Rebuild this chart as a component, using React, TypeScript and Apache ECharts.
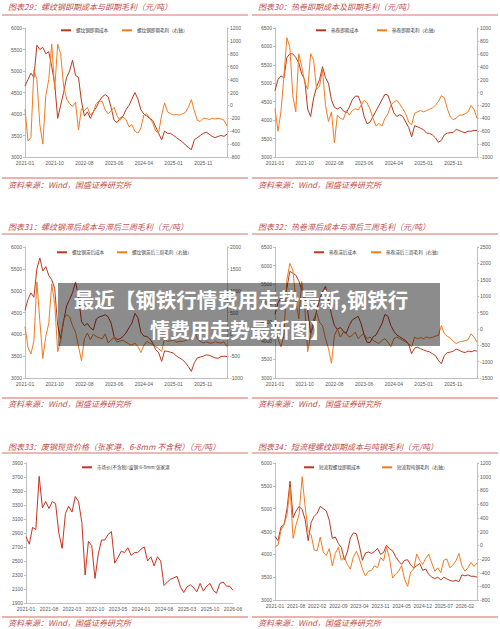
import React, { useEffect, useRef } from 'react';
import * as echarts from 'echarts';

// ---------- tick labels ----------
const ticksA = ['2021-01', '2021-10', '2022-08', '2023-06', '2024-04', '2025-01', '2025-11'];
const ticks33 = ['2021-01', '2021-08', '2022-03', '2022-10', '2023-05', '2024-01', '2024-08', '2025-03', '2025-10', '2026-06'];
const ticks34 = ['2021-01', '2021-08', '2022-02', '2022-09', '2023-04', '2023-11', '2024-05', '2024-12', '2025-07', '2026-02'];

// ---------- 图表29 ----------
const rebarSpotCost = [
  4650, 4800, 4950, 4850, 5600, 5500, 5550, 5400, 5450, 5100,
  4700, 3900, 4200, 4500, 4850, 5000, 5250, 4900, 4850, 4300,
  3950, 4050, 3900, 4050, 4150, 4300, 4400, 4450, 4400, 4150,
  3850, 3800, 3900, 3950, 4100, 4200, 4350, 4500, 4350, 4100,
  4000, 3950, 3900, 3850, 3700, 3550, 3400, 3600, 3550, 3550,
  3500, 3450, 3400, 3350, 3280, 3220, 3170, 3400, 3450, 3500,
  3550, 3580, 3530, 3480, 3450, 3480, 3500, 3480, 3530,
];
const rebarSpotProfit = [
  -60, -550, -500, 550, 400, -300, -600, 150, 400, 950,
  250, 950, 800, 300, 100, 30, -20, 50, -380, -50,
  -80, -30, -150, -100, 30, 70, 60, -70, -130, -80,
  -30, -160, -230, -180, -220, -330, -300, -400, -430, -350,
  -150, -130, -200, -270, -400, -420, -150, 40, -100, -130,
  -150, -140, -150, -130, -110, -30, 90, -80, -230, -250,
  -200, -200, -220, -200, -210, -200, -210, -230, -320,
];

// ---------- 图表30 ----------
const hrcSpotCost = [
  4800, 5100, 5200, 5150, 5700, 5800, 5800, 5700, 5550, 5250,
  5100, 4300, 4100, 4600, 4900, 5100, 5450, 5150, 5000, 4550,
  4350, 4300, 4350, 4250, 4200, 4350, 4550, 4650, 4650, 4450,
  4100, 3900, 3950, 4100, 4250, 4400, 4550, 4700, 4680, 4450,
  4200, 4100, 4150, 4100, 3950, 3800, 3550, 3850, 3820, 3780,
  3740, 3650, 3640, 3600, 3520, 3400, 3450, 3600, 3650, 3660,
  3670, 3750, 3720, 3680, 3660, 3700, 3700, 3720, 3720,
];
const hrcSpotProfit = [
  -250, -600, -300, 250, 850, 700, -50, -300, 600, 400,
  150, 50, 600, 500, 50, 100, 350, -200, -450, -300,
  -780, -350, -400, -420, -280, -350, -280, -250, -270, -200,
  -120, -160, -260, -400, -520, -480, -520, -400, -330, -200,
  -150, -120, -180, -250, -330, -460, -500, -320, -300, -280,
  -300, -280, -260, -240, -200, -140, -50, -80, -250, -380,
  -420, -400, -350, -350, -330, -300, -200, -260, -400,
];

// ---------- 图表31 ----------
const rebarLagCost = [
  4550, 4800, 4950, 4850, 5500, 5750, 5450, 5550, 5350, 5250,
  5050, 4200, 3900, 4300, 4650, 4800, 4950, 5200, 4870, 4300,
  4200, 4250, 4150, 4100, 4350, 4400, 4420, 4450, 4400, 4250,
  3950, 3880, 3900, 3950, 4030, 4150, 4260, 4480, 4380, 4050,
  3960, 3950, 3900, 3800, 3650, 3580, 3380, 3620, 3610, 3590,
  3570, 3500, 3460, 3420, 3350, 3260, 3150, 3350, 3460, 3480,
  3500, 3530, 3520, 3490, 3460, 3450, 3490, 3500, 3490,
];
const rebarLagProfit = [
  180, -300, -450, -150, 1200, 300, -550, -50, 250, 1150,
  700, -400, -150, 350, 450, 400, 200, 50, -270, -600,
  -100, 30, -120, 0, -50, -80, -100, 10, -200, -120,
  -80, -180, -150, -140, -180, -220, -250, -200, -280, -420,
  -250, -160, -200, -230, -280, -330, -390, -100, -160, -150,
  -130, -180, -160, -160, -140, -120, -90, 100, -100, -160,
  -200, -170, -200, -200, -170, -190, -200, -170, -280,
];

// ---------- 图表32 ----------
const hrcLagCost = [
  4700, 5000, 5150, 5100, 5400, 5850, 5800, 5750, 5600, 5350,
  5200, 4800, 4200, 4400, 4800, 5100, 5300, 5450, 5100, 4700,
  4400, 4300, 4350, 4250, 4200, 4400, 4550, 4600, 4650, 4450,
  4150, 3950, 3950, 4100, 4150, 4300, 4450, 4700, 4650, 4400,
  4250, 4150, 4100, 4050, 4000, 3900, 3650, 3800, 3820, 3780,
  3750, 3720, 3700, 3650, 3600, 3470, 3380, 3600, 3680, 3690,
  3720, 3770, 3740, 3700, 3680, 3720, 3700, 3730, 3720,
];
const hrcLagProfit = [
  200, -300, -550, -200, 1500, 2000, 1800, 900, 300, 1450,
  700, -700, -200, 300, 500, 200, 100, -300, -600, -1050,
  -200, 0, -250, -100, -150, -250, -200, -100, -300, -200,
  -150, -300, -250, -350, -400, -450, -350, -300, -400, -550,
  -300, -250, -300, -350, -400, -450, -550, -250, -300, -270,
  -300, -250, -280, -260, -220, -200, 100, -150, -230, -280,
  -380, -450, -400, -380, -360, -330, -150, -250, -400,
];

// ---------- 图表33 ----------
const scrapPrice = [
  2850, 2740, 2980, 2950, 3710, 3260, 3350, 3250, 3350, 3320,
  2900, 2680, 3180, 3280, 3200, 3420, 3350, 3050, 2300, 2780,
  2720, 2250, 2600, 2800, 2800, 2880, 2920, 2470, 2550, 2640,
  2620, 2690, 2580, 2620, 2620, 2670, 2700, 2500, 2560, 2430,
  2560, 2500, 2150, 2200, 2240, 2260, 2280, 2130, 2050, 2130,
  2160, 2120, 2060, 2180, 2070, 2140, 2180, 2080, 2040, 2180,
  2200, 2140, 2140, 2080,
];

// ---------- 图表34 ----------
const eafCost = [
  4390, 4300, 4600, 4650, 5000, 5600, 4800, 4950, 5050, 4980,
  4760, 4300, 4700, 4830, 4900, 5050, 5000, 4950, 4750, 4350,
  4380, 4240, 4150, 3880, 4050, 4360, 4470, 4450, 4180, 3870,
  4030, 4050, 4020, 4060, 4130, 4000, 4040, 4200, 4120, 4080,
  3950, 3850, 3780, 3870, 3880, 3770, 3700, 3750, 3800, 3650,
  3680, 3560, 3500, 3470, 3500, 3440, 3500, 3460, 3430, 3410,
  3430, 3400, 3550, 3530, 3550, 3520, 3520, 3500,
];
const eafProfit = [
  -20, 0, 220, 300, 450, 850, 100, 300, 450, 1000,
  560, 200, 150, -70, -80, 120, -100, -150, -50, -300,
  -120, -30, -220, -170, -280, -350, -170, -90, -200, -350,
  -450, -380, -370, -300, -330, -180, -230, -30, -200, -480,
  -420, -380, -300, -500, -600, -390, -350, -130, -220, -280,
  -190, -130, -260, -380, -330, -400, -220, -200, -330, -290,
  -230, -120, -300, -380, -330, -250, -310, -260,
];

const DARK = '#b8391c';
const ORANGE = '#f47a20';
const RED = '#c8321e';
const TITLE_RED = '#c0504d';
const LINE_RED = '#d9716b';
const AX = '#bfbfbf';
const LBL = '#595959';
const FONT = '"Noto Sans CJK SC", "Noto Sans", sans-serif';
const NUMFONT = '"Liberation Sans", Arial, sans-serif';

type Panel = {
  title: string;
  grid: { left: number; top: number; width: number; height: number };
  ticks: string[];
  step: number;
  left: [number, number, number];
  right?: [number, number, number];
  series: { name: string; data: number[]; color: string; right: boolean; legendX: number }[];
  legendY: number;
  titleX: number;
  titleY: number;
  ruleY: number;
  srcLineY: number;
  srcY: number;
  x0: number;
};

const panels: Panel[] = [
  {
    title: '图表29：螺纹钢即期成本与即期毛利（元/吨）',
    grid: { left: 25, top: 28, width: 202, height: 129 },
    ticks: ticksA, step: 10, left: [3000, 6000, 500], right: [-800, 1200, 200],
    series: [
      { name: '螺纹钢即期成本', data: rebarSpotCost, color: DARK, right: false, legendX: 61 },
      { name: '螺纹钢即期毛利（右轴）', data: rebarSpotProfit, color: ORANGE, right: true, legendX: 122 },
    ],
    legendY: 28, titleX: 8, titleY: 6, ruleY: 15, srcLineY: 178, srcY: 184, x0: 0,
  },
  {
    title: '图表30：热卷即期成本及即期毛利（元/吨）',
    grid: { left: 275, top: 28, width: 202, height: 129 },
    ticks: ticksA, step: 10, left: [3000, 6500, 500], right: [-1000, 1000, 200],
    series: [
      { name: '热卷即期成本', data: hrcSpotCost, color: DARK, right: false, legendX: 316 },
      { name: '热卷即期毛利（右轴）', data: hrcSpotProfit, color: ORANGE, right: true, legendX: 377 },
    ],
    legendY: 28, titleX: 258, titleY: 6, ruleY: 15, srcLineY: 178, srcY: 184, x0: 250,
  },
  {
    title: '图表31：螺纹钢滞后成本与滞后三周毛利（元/吨）',
    grid: { left: 25, top: 247, width: 202, height: 131 },
    ticks: ticksA, step: 10, left: [3000, 6000, 500], right: [-1000, 2000, 500],
    series: [
      { name: '螺纹钢滞后成本', data: rebarLagCost, color: DARK, right: false, legendX: 57 },
      { name: '螺纹钢滞后三周毛利（右轴）', data: rebarLagProfit, color: ORANGE, right: true, legendX: 117 },
    ],
    legendY: 250, titleX: 8, titleY: 226, ruleY: 234, srcLineY: 398, srcY: 403, x0: 0,
  },
  {
    title: '图表32：热卷滞后成本与滞后三周毛利（元/吨）',
    grid: { left: 275, top: 247, width: 202, height: 131 },
    ticks: ticksA, step: 10, left: [3000, 6500, 500], right: [-1500, 2500, 500],
    series: [
      { name: '热卷滞后成本', data: hrcLagCost, color: DARK, right: false, legendX: 314 },
      { name: '热卷滞后三周毛利（右轴）', data: hrcLagProfit, color: ORANGE, right: true, legendX: 371 },
    ],
    legendY: 250, titleX: 258, titleY: 226, ruleY: 234, srcLineY: 398, srcY: 403, x0: 250,
  },
  {
    title: '图表33：废钢现货价格（张家港，6-8mm 不含税）（元/吨）',
    grid: { left: 26, top: 463, width: 207, height: 140 },
    ticks: ticks33, step: 7, left: [1900, 3900, 200],
    series: [
      { name: '市场价(不含税):废钢:6-8mm:张家港', data: scrapPrice, color: RED, right: false, legendX: 82 },
    ],
    legendY: 465, titleX: 8, titleY: 446, ruleY: 453, srcLineY: 617, srcY: 622, x0: 0,
  },
  {
    title: '图表34：短流程螺纹即期成本与吨钢毛利（元/吨）',
    grid: { left: 275, top: 463, width: 202, height: 137 },
    ticks: ticks34, step: 7, left: [3000, 6000, 500], right: [-800, 1200, 200],
    series: [
      { name: '短流程螺纹即期成本', data: eafCost, color: DARK, right: false, legendX: 304 },
      { name: '短流程吨钢毛利（右轴）', data: eafProfit, color: ORANGE, right: true, legendX: 382 },
    ],
    legendY: 465, titleX: 258, titleY: 446, ruleY: 453, srcLineY: 617, srcY: 622, x0: 250,
  },
];

const plainNum = (v: number) => String(v);

function buildOption() {
  const grid: any[] = [];
  const xAxis: any[] = [];
  const yAxis: any[] = [];
  const series: any[] = [];
  const legend: any[] = [];
  const graphic: any[] = [];

  panels.forEach((p, gi) => {
    grid.push({ ...p.grid, containLabel: false });
    const n = p.series[0].data.length;
    const step = p.step;
    const labels = p.ticks;
    xAxis.push({
      type: 'value', gridIndex: gi, min: 0, max: n - 1, interval: step,
      axisLine: { show: true, onZero: false, lineStyle: { color: AX, width: 1 } },
      axisTick: { show: false },
      splitLine: { show: false },
      axisLabel: {
        fontSize: 5, color: LBL, margin: 3, fontFamily: NUMFONT,
        showMinLabel: true, showMaxLabel: true,
        formatter: (v: number) => (v % step === 0 ? labels[v / step] ?? '' : ''),
      },
    });
    const leftIdx = yAxis.length;
    yAxis.push({
      type: 'value', gridIndex: gi, position: 'left',
      min: p.left[0], max: p.left[1], interval: p.left[2],
      axisLine: { show: true, lineStyle: { color: AX, width: 1 } },
      axisTick: { show: true, length: 2, lineStyle: { color: AX } },
      splitLine: { show: false },
      axisLabel: { fontSize: 5, color: LBL, margin: 3, fontFamily: NUMFONT, formatter: plainNum },
    });
    let rightIdx = leftIdx;
    if (p.right) {
      rightIdx = yAxis.length;
      yAxis.push({
        type: 'value', gridIndex: gi, position: 'right',
        min: p.right[0], max: p.right[1], interval: p.right[2],
        axisLine: { show: true, lineStyle: { color: AX, width: 1 } },
        axisTick: { show: true, length: 2, lineStyle: { color: AX } },
        splitLine: { show: false },
        axisLabel: { fontSize: 5, color: LBL, margin: 3, fontFamily: NUMFONT, formatter: plainNum },
      });
    }
    p.series.forEach((s) => {
      series.push({
        type: 'line', name: s.name, xAxisIndex: gi, yAxisIndex: s.right ? rightIdx : leftIdx,
        data: s.data.map((v, i) => [i, v]),
        symbol: 'none', showSymbol: false,
        lineStyle: { width: 1, color: s.color }, itemStyle: { color: s.color },
      });
      legend.push({
        left: s.legendX, top: p.legendY, padding: 0, data: [s.name], icon: 'rect',
        itemWidth: 10, itemHeight: 2, selectedMode: false,
        textStyle: { fontSize: 4.6, color: '#404040', fontFamily: FONT },
      });
    });

    graphic.push({
      type: 'text', x: p.titleX, y: p.titleY,
      style: {
        text: p.title, fill: TITLE_RED, fontSize: 8, fontStyle: 'italic',
        fontFamily: FONT, verticalAlign: 'middle', align: 'left',
      },
    });
    graphic.push({
      type: 'line', shape: { x1: p.x0 + 2, y1: p.ruleY, x2: p.x0 + 248, y2: p.ruleY },
      style: { stroke: LINE_RED, lineWidth: 1 },
    });
    graphic.push({
      type: 'line', shape: { x1: p.x0 + 2, y1: p.srcLineY, x2: p.x0 + 248, y2: p.srcLineY },
      style: { stroke: '#e39a95', lineWidth: 1.5 },
    });
    graphic.push({
      type: 'text', x: p.titleX, y: p.srcY,
      style: {
        text: '资料来源：Wind，国盛证券研究所', fill: TITLE_RED, fontSize: 8, fontStyle: 'italic',
        fontFamily: FONT, verticalAlign: 'middle', align: 'left',
      },
    });
  });

  // banner overlay
  graphic.push({
    type: 'rect', z: 100, shape: { x: 58, y: 283, width: 382, height: 63 },
    style: { fill: 'rgba(0,0,0,0.45)' },
  });
  graphic.push({
    type: 'text', z: 101, x: 241, y: 299,
    style: {
      text: '最近【钢铁行情费用走势最新,钢铁行', fill: '#ffffff', fontSize: 20.5, fontWeight: 'bold',
      fontFamily: FONT, align: 'center', verticalAlign: 'middle',
    },
  });
  graphic.push({
    type: 'text', z: 101, x: 240, y: 329,
    style: {
      text: '情费用走势最新图】', fill: '#ffffff', fontSize: 20, fontWeight: 'bold',
      fontFamily: FONT, align: 'center', verticalAlign: 'middle',
    },
  });

  return {
    animation: false,
    backgroundColor: '#ffffff',
    textStyle: { fontFamily: FONT },
    grid, xAxis, yAxis, series, legend, graphic,
  };
}

export default function App() {
  const ref = useRef<HTMLDivElement>(null);
  useEffect(() => {
    if (!ref.current) return;
    const chart = echarts.init(ref.current, undefined, { renderer: 'svg' });
    chart.setOption(buildOption() as any);
    return () => chart.dispose();
  }, []);
  return (
    <div
      ref={ref}
      style={{ position: 'fixed', left: 0, top: 0, width: 500, height: 629, background: '#fff' }}
    />
  );
}
